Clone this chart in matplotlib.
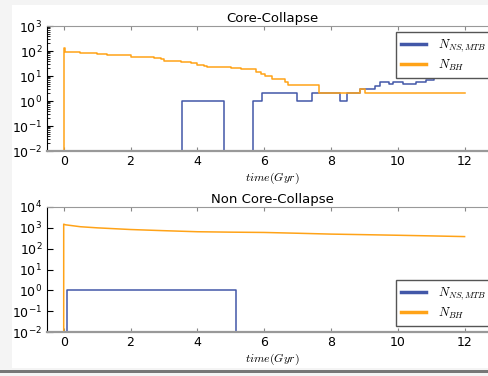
import matplotlib
matplotlib.use("Agg")
from matplotlib import pyplot as plt
from matplotlib.patches import Rectangle
from matplotlib.lines import Line2D

plt.rcParams['mathtext.fontset'] = 'cm'

# core-collapse panel (step data, Gyr)
cc_bh_t = [0.0, 0.0, 0.05, 0.5, 1.0, 1.3, 1.6, 2.0, 2.3, 2.7, 2.9, 3.0, 3.5, 3.8, 4.0, 4.2, 4.3,
           5.0, 5.3, 5.76, 5.9, 6.03, 6.23, 6.63, 6.71, 7.65, 8.88, 9.03, 12.0]
cc_bh_n = [0, 130, 90, 85, 78, 72, 68, 60, 57, 53, 46, 40, 36, 32, 28, 25, 22,
           21, 19, 14, 12, 10, 7.5, 6, 4.2, 2, 3, 2, 2]

cc_ns_t = [0.0, 3.55, 4.8, 5.68, 5.95, 6.98, 7.43, 8.28, 8.49, 8.88, 9.33, 9.48, 9.75, 9.85,
           10.15, 10.55, 10.83, 11.08, 11.38, 12.0]
cc_ns_n = [0, 1, 0, 1, 2, 1, 2, 1, 2, 3, 4, 6, 5, 6,
           5, 6, 7, 8, 10, 10]

# non core-collapse panel
ncc_bh_t = [0.0, 0.0, 0.05, 0.5, 1.0, 2.0, 3.0, 4.0, 5.0, 6.0, 7.0, 8.0, 9.0, 10.0, 11.0, 12.0]
ncc_bh_n = [0, 1500, 1400, 1130, 1000, 830, 730, 650, 620, 600, 550, 500, 470, 440, 410, 380]

ncc_ns_t = [0.0, 0.11, 5.15, 5.15]
ncc_ns_n = [0, 1, 0, 0]

cc_yticks = [1e-2, 1e-1, 1e0, 1e1, 1e2, 1e3]
ncc_yticks = [1e-2, 1e-1, 1e0, 1e1, 1e2, 1e3, 1e4]

blue = '#4257a8'
orange = '#ffa318'

fig = plt.figure(figsize=(4.89, 3.76), dpi=100)
fig.patch.set_facecolor('#f4f4f4')
# screenshot frame
fig.patches.append(Rectangle((12/489, 1-368/376), 1, 363/376, transform=fig.transFigure,
                             facecolor='white', edgecolor='none', zorder=-5))
fig.patches.append(Rectangle((0, 1-373/376), 1, 3/376, transform=fig.transFigure,
                             facecolor='#777777', edgecolor='none', zorder=-5))

ax1 = fig.add_axes([47/489, 1-151/376, 451/489, 125/376])
ax2 = fig.add_axes([47/489, 1-332/376, 451/489, 125/376])

panels = [
    (ax1, "Core-Collapse", cc_ns_t, cc_ns_n, cc_bh_t, cc_bh_n, cc_yticks, 'upper right', 'steps-post'),
    (ax2, "Non Core-Collapse", ncc_ns_t, ncc_ns_n, ncc_bh_t, ncc_bh_n, ncc_yticks, 'lower right', 'default'),
]

for ax, title, ns_t, ns_n, bh_t, bh_n, yticks, loc, bh_style in panels:
    ax.plot(ns_t, ns_n, color=blue, lw=1.1, drawstyle='steps-post')
    ax.plot(bh_t, bh_n, color=orange, lw=1.1, drawstyle=bh_style)
    ax.set_yscale('log')
    ax.set_ylim(yticks[0], yticks[-1])
    ax.set_yticks(yticks)
    ax.set_xlim(-0.5, 13)
    ax.set_xticks([0, 2, 4, 6, 8, 10, 12])
    ax.set_title(title, fontsize=9.5, pad=3)
    ax.set_xlabel('$time(Gyr)$', fontsize=8.5, labelpad=2)
    ax.tick_params(axis='both', which='both', direction='in', labelsize=9)
    ax.tick_params(axis='x', which='major', length=3, color='#888888', pad=3)
    ax.tick_params(axis='y', which='major', length=4, color='black', right=False)
    ax.tick_params(axis='y', which='minor', length=2, color='black', right=False)
    ax.tick_params(axis='x', top=True)
    ax.spines['left'].set_color('black')
    ax.spines['bottom'].set_color('#999999')
    ax.spines['bottom'].set_linewidth(1.6)
    ax.spines['top'].set_color('#999999')
    ax.spines['right'].set_visible(False)
    handles = [Line2D([], [], color=blue, lw=2.5), Line2D([], [], color=orange, lw=2.5)]
    leg = ax.legend(handles, ['$N_{NS,MTB}$', '$N_{BH}$'], loc=loc, fontsize=9,
                    fancybox=False, framealpha=1, edgecolor='#555555', handlelength=2.0,
                    handletextpad=1.0, borderaxespad=0.5, labelspacing=0.3)
    leg.get_frame().set_linewidth(1.0)

fig.savefig('out.png', dpi=100, facecolor=fig.get_facecolor())
